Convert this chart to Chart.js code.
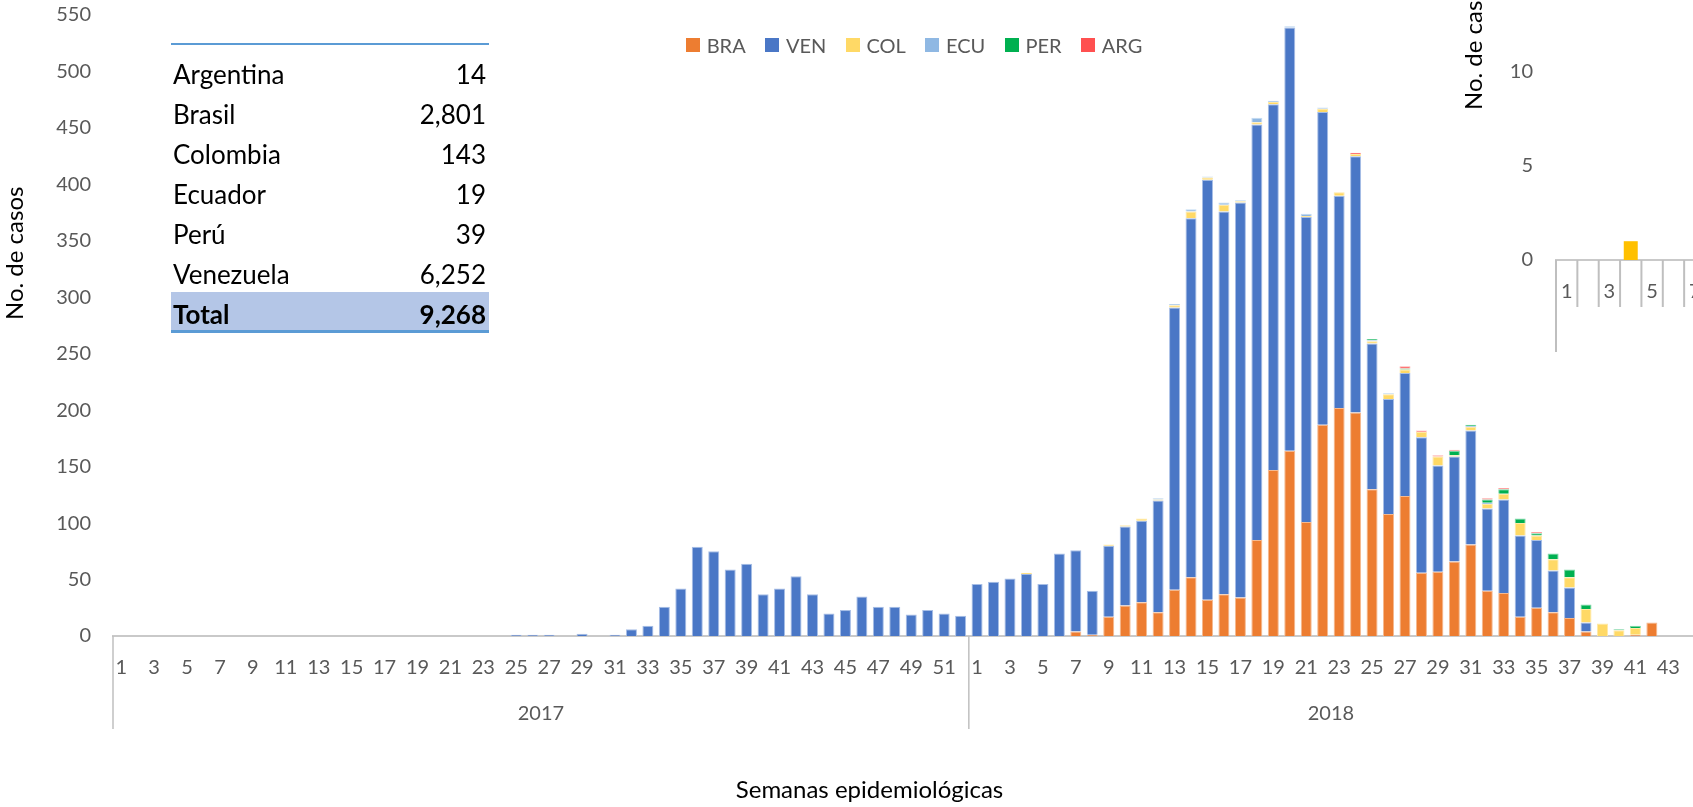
<!DOCTYPE html>
<html>
<head>
<meta charset="utf-8">
<script src="https://cdn.jsdelivr.net/npm/chart.js@4.4.0/dist/chart.umd.min.js"></script>
<style>
html,body{margin:0;padding:0;width:1693px;height:807px;overflow:hidden;background:#fff;font-family:Lato,"Open Sans",sans-serif;}
#main{position:absolute;left:0;top:0;}
#insetWrap{position:absolute;left:1440px;top:0;width:253px;height:360px;overflow:hidden;}
#inset{position:absolute;left:0;top:-40px;}
#legend{position:absolute;left:686px;top:34.7px;height:20px;display:flex;align-items:center;}
.li{display:flex;align-items:center;margin-right:19.5px;}
.sw{width:14px;height:14px;margin-right:6.7px;}
.lt{font:20px Lato;line-height:20px;color:#595959;}
.tline{position:absolute;left:171px;width:318px;height:2.7px;background:#5B9BD5;}
.trow{position:absolute;left:173px;width:313px;height:31px;font:26px Lato;line-height:31px;color:#000;}
.trow .n{position:absolute;left:0;top:0;}
.trow .v{position:absolute;right:0;top:0;}
.tot{font-weight:bold;}
#totbg{position:absolute;left:171px;top:292.3px;width:318px;height:37.7px;background:#B4C6E7;}
</style>
</head>
<body>
<canvas id="main" width="1693" height="807"></canvas>
<div id="insetWrap"><canvas id="inset" width="415" height="400"></canvas></div>
<div id="legend"></div>
<div id="table"></div>
<script>
// ---------- Data ----------
const weeks2017 = ['1','2','3','4','5','6','7','8','9','10','11','12','13','14','15','16','17','18','19','20','21','22','23','24','25','26','27','28','29','30','31','32','33','34','35','36','37','38','39','40','41','42','43','44','45','46','47','48','49','50','51','52'];
const weeks2018 = ['1','2','3','4','5','6','7','8','9','10','11','12','13','14','15','16','17','18','19','20','21','22','23','24','25','26','27','28','29','30','31','32','33','34','35','36','37','38','39','40','41','42','43','44'];
const yearLabels = ['2017','2018'];

const seriesNames = ['BRA','VEN','COL','ECU','PER','ARG'];
const seriesColors = ['#ED7D31','#4A77C6','#FFD966','#8FB8E3','#00B050','#FF5050'];
const seriesBorders = ['#F5B98F','#A7BEE6','#FFE9A6','#C3DBF2','#7FD8A8','#FFA8A8'];

const zero2017 = [0,0,0,0,0,0,0,0,0,0, 0,0,0,0,0,0,0,0,0,0, 0,0,0,0,0,0,0,0,0,0, 0,0,0,0,0,0,0,0,0,0, 0,0,0,0,0,0,0,0,0,0, 0,0];
const ven2017 = [0,0,0,0,0,0,0,0,0,0, 0,0,0,0,0,0,0,0,0,0, 0,0,0,0,1,1,1,0,2,0, 1,6,9,26,42,79,75,59,64,37, 42,53,37,20,23,35,26,26,19,23, 20,18];

const bra2018 = [0,0,0,0,0,0,4,1,17,27, 30,21,41,52,32,37,34,85,147,164, 101,187,202,198,130,108,124,56,57,66, 81,40,38,17,25,21,16,4,0,0, 1,12,0,0];
const ven2018 = [46,48,51,55,46,73,72,39,63,70, 72,99,250,318,372,339,350,368,324,375, 270,277,188,227,129,102,109,120,94,93, 101,73,83,72,60,37,27,8,0,0, 0,0,0,0];
const col2018 = [0,0,0,1,0,0,0,0,1,1, 2,1,2,6,2,6,1,2,2,0, 1,3,3,2,2,4,3,5,8,1, 3,4,5,11,4,10,9,12,11,5, 6,0,0,0];
const ecu2018 = [0,0,0,0,0,0,0,0,0,0, 0,1,1,2,1,2,1,4,1,1, 2,1,0,0,1,1,0,0,0,0, 1,1,0,0,0,0,0,0,0,0, 0,0,0,0];
const per2018 = [0,0,0,0,0,0,0,0,0,0, 0,0,0,0,0,0,0,0,0,0, 0,0,0,0,1,0,1,0,0,4, 1,3,4,4,2,5,7,4,0,1, 2,0,0,0];
const arg2018 = [0,0,0,0,0,0,0,0,0,0, 0,0,0,0,0,0,0,0,0,0, 0,0,0,1,0,0,2,1,1,1, 0,1,1,0,1,0,0,0,0,0, 0,0,0,0];

const tableCountries = ['Argentina','Brasil','Colombia','Ecuador','Perú','Venezuela'];
const tableCases = [14,2801,143,19,39,6252];

const insetWeeks = ['1','2','3','4','5','6','7','8','9','10','11','12','13','14'];
const insetValues = [0,0,0,1,0,0,0,0,0,0,0,0,0,0];

// ---------- Build ----------
const allWeeks = weeks2017.concat(weeks2018);
const seriesData = [
  zero2017.concat(bra2018),
  ven2017.concat(ven2018),
  zero2017.concat(col2018),
  zero2017.concat(ecu2018),
  zero2017.concat(per2018),
  zero2017.concat(arg2018)
];
const groups = [
  {label: yearLabels[0], start: 0, count: weeks2017.length},
  {label: yearLabels[1], start: weeks2017.length, count: weeks2018.length}
];

const FONT = 'Lato';
const GRAY = '#595959';
const AXIS = '#C9C9C9';

// legend
const leg = document.getElementById('legend');
seriesNames.forEach((n,i)=>{
  const d = document.createElement('div'); d.className='li';
  d.innerHTML = '<div class="sw" style="background:'+seriesColors[i]+'"></div><div class="lt">'+n+'</div>';
  leg.appendChild(d);
});

// table
const tbl = document.getElementById('table');
const fmt = v => v.toLocaleString('en-US');
let html = '<div class="tline" style="top:42.7px"></div><div id="totbg"></div>';
tableCountries.forEach((c,i)=>{
  html += '<div class="trow" style="top:'+(59.3+40*i)+'px"><span class="n">'+c+'</span><span class="v">'+fmt(tableCases[i])+'</span></div>';
});
const total = tableCases.reduce((a,b)=>a+b,0);
html += '<div class="trow tot" style="top:'+(59.3+40*tableCountries.length)+'px"><span class="n">Total</span><span class="v">'+fmt(total)+'</span></div>';
html += '<div class="tline" style="top:330px"></div>';
tbl.innerHTML = html;

const oddLabel = labels => (v,i) => (parseInt(labels[i],10) % 2 === 1) ? labels[i] : '';
const noPadX = h => s => { s.height = h; s.paddingLeft = 0; s.paddingRight = 0; };
const noPadY = w => s => { s.width = w; s.paddingTop = 0; s.paddingBottom = 0; };

const mainDecor = {
  id: 'mainDecor',
  afterDraw(chart) {
    const {ctx, chartArea, scales} = chart;
    const x = scales.x;
    const catW = (x.right - x.left) / allWeeks.length;
    ctx.save();
    ctx.strokeStyle = '#BFBFBF';
    ctx.lineWidth = 1.5;
    groups.forEach(g => {
      const gx = x.left + g.start * catW;
      ctx.beginPath();
      ctx.moveTo(gx, chartArea.bottom);
      ctx.lineTo(gx, 729);
      ctx.stroke();
    });
    ctx.fillStyle = GRAY;
    ctx.font = '20px ' + FONT;
    ctx.textAlign = 'center';
    ctx.textBaseline = 'middle';
    groups.forEach(g => {
      const cx = x.left + (g.start + g.count / 2) * catW;
      ctx.fillText(g.label, cx, 714);
    });
    ctx.fillStyle = '#000';
    ctx.font = '24px ' + FONT;
    ctx.fillText('Semanas epidemiológicas', 869.5, 790);
    ctx.translate(23.3, 253.3);
    ctx.rotate(-Math.PI / 2);
    ctx.textBaseline = 'alphabetic';
    ctx.fillText('No. de casos', 0, 0);
    ctx.restore();
  }
};

new Chart(document.getElementById('main'), {
  type: 'bar',
  data: {
    labels: allWeeks,
    datasets: seriesNames.map((n,i)=>({
      label: n,
      data: seriesData[i],
      backgroundColor: seriesColors[i],
      borderColor: seriesBorders[i],
      borderWidth: 1,
      barPercentage: 0.67,
      categoryPercentage: 1.0
    }))
  },
  options: {
    responsive: false,
    animation: false,
    devicePixelRatio: 1,
    layout: {padding: {top: 15, left: 0, right: 0, bottom: 0}},
    plugins: {legend: {display: false}, tooltip: {enabled: false}},
    scales: {
      x: {
        stacked: true,
        grid: {display: false, drawTicks: false},
        border: {display: true, color: AXIS, width: 2},
        ticks: {autoSkip: false, maxRotation: 0, minRotation: 0, padding: 20, color: GRAY,
                font: {family: FONT, size: 20}, callback: oddLabel(allWeeks)},
        afterFit: noPadX(171)
      },
      y: {
        stacked: true, min: 0, max: 550,
        grid: {display: false, drawTicks: false},
        border: {display: false},
        ticks: {stepSize: 50, padding: 22, color: GRAY, font: {family: FONT, size: 20}},
        afterFit: noPadY(113)
      }
    }
  },
  plugins: [mainDecor]
});

const insetDecor = {
  id: 'insetDecor',
  afterDraw(chart) {
    const {ctx, chartArea, scales} = chart;
    const x = scales.x;
    const catW = (x.right - x.left) / insetWeeks.length;
    ctx.save();
    ctx.strokeStyle = '#BFBFBF';
    ctx.lineWidth = 2;
    for (let k = 0; k <= insetWeeks.length; k++) {
      const gx = x.left + k * catW;
      ctx.beginPath();
      ctx.moveTo(gx, chartArea.bottom);
      ctx.lineTo(gx, k === 0 ? chartArea.bottom + 92 : chartArea.bottom + 47);
      ctx.stroke();
    }
    ctx.fillStyle = '#000';
    ctx.font = '24px ' + FONT;
    ctx.textAlign = 'left';
    ctx.textBaseline = 'alphabetic';
    ctx.translate(41.7, 150);
    ctx.rotate(-Math.PI / 2);
    ctx.fillText('No. de casos', 0, 0);
    ctx.restore();
  }
};

new Chart(document.getElementById('inset'), {
  type: 'bar',
  data: {
    labels: insetWeeks,
    datasets: [{data: insetValues, backgroundColor: '#FFC000', barPercentage: 0.655, categoryPercentage: 1.0}]
  },
  options: {
    responsive: false,
    animation: false,
    devicePixelRatio: 1,
    layout: {padding: {top: 18, left: 0, right: 0, bottom: 0}},
    plugins: {legend: {display: false}, tooltip: {enabled: false}},
    scales: {
      x: {
        grid: {display: false, drawTicks: false},
        border: {display: true, color: AXIS, width: 2},
        ticks: {autoSkip: false, maxRotation: 0, minRotation: 0, padding: 20, color: GRAY,
                font: {family: FONT, size: 20}, callback: oddLabel(insetWeeks)},
        afterFit: noPadX(100)
      },
      y: {
        min: 0, max: 15,
        grid: {display: false, drawTicks: false},
        border: {display: false},
        ticks: {stepSize: 5, padding: 23, color: GRAY, font: {family: FONT, size: 20}},
        afterFit: noPadY(116)
      }
    }
  },
  plugins: [insetDecor]
});
</script>
</body>
</html>
